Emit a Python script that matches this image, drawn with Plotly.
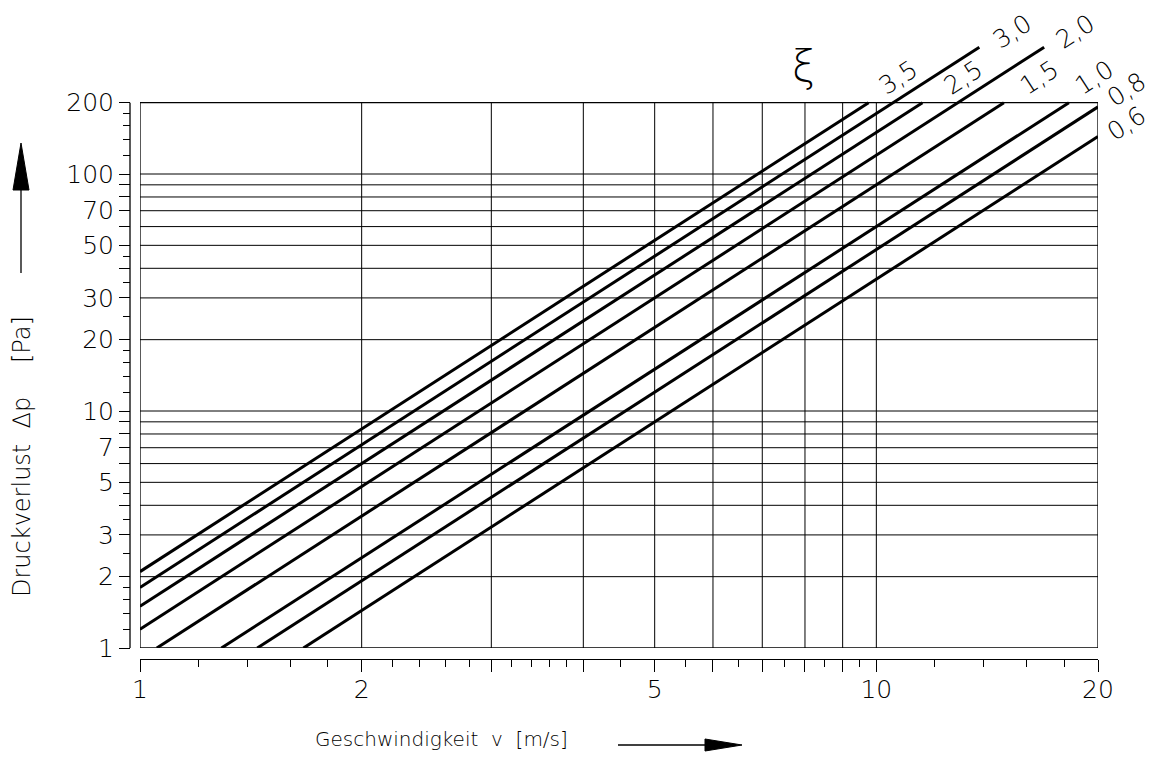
import numpy as np
import plotly.graph_objects as go

# ---------- data ----------
zeta_labels = ["3,5", "3,0", "2,5", "2,0", "1,5", "1,0", "0,8", "0,6"]
v_start = [1.0, 1.0, 1.0, 1.0, 1.054, 1.29, 1.443, 1.667]
dp_start = [2.1, 1.8, 1.5, 1.2, 1.0, 1.0, 1.0, 1.0]
v_end = [9.76, 13.8, 11.55, 16.9, 14.9, 18.26, 20.0, 20.0]
dp_end = [200, 343, 200, 343, 200, 200, 192, 144]

# grid / ticks
x_grid = [2, 3, 4, 5, 6, 7, 8, 9, 10]
y_grid = [2, 3, 4, 5, 6, 7, 8, 9, 10, 20, 30, 40, 50, 60, 70, 80, 90, 100]
x_major = [1, 2, 3, 4, 5, 6, 7, 8, 9, 10, 20]
x_labels = {1: "1", 2: "2", 5: "5", 10: "10", 20: "20"}
x_minor = [1.2, 1.4, 1.6, 1.8, 2.2, 2.4, 2.6, 2.8, 3.2, 3.4, 3.6, 3.8,
           4.5, 5.5, 6.5, 7.5, 8.5, 9.5, 12, 14, 16, 18]
y_major = [1, 2, 3, 4, 5, 6, 7, 8, 9, 10, 20, 30, 40, 50, 60, 70, 80, 90, 100, 200]
y_labels = {1: "1", 2: "2", 3: "3", 5: "5", 7: "7", 10: "10", 20: "20",
            30: "30", 50: "50", 70: "70", 100: "100", 200: "200"}
y_minor = [1.2, 1.4, 1.6, 1.8, 2.5, 3.5, 4.5,
           12, 14, 16, 18, 25, 35, 45,
           120, 140, 160, 180]

# ---------- geometry (screen pixels, page body has an 8px margin) ----------
OFF = 8
W, H = 1145, 750
AX_X, AX_Y = 130, 659               # screen pos of the offset y / x axis lines
X_LEFT, X_RIGHT = 140, 1098         # screen x of v=1 and v=20
Y_BOTTOM, Y_TOP = 648, 30           # screen y of dp=1 and top of plotting area
DEC_Y = 237.0                       # pixels per decade on y

ML = AX_X - OFF
MR = W - (X_RIGHT - OFF)
MB = H - (AX_Y - OFF)
MT = Y_TOP - OFF
PW, PH = W - ML - MR, H - MT - MB
y_top_log = (Y_BOTTOM - Y_TOP) / DEC_Y


def paper(xp, yp):
    return (xp - OFF - ML) / PW, (H - MB - (yp - OFF)) / PH


FONT = "DejaVu Sans"
WEIGHT = 200
INK = "black"

fig = go.Figure()

# grid lines
for gx in x_grid:
    fig.add_trace(go.Scatter(x=[gx, gx], y=[1, 200], mode="lines",
                             line=dict(color=INK, width=1), hoverinfo="skip",
                             showlegend=False))
for gy in y_grid:
    fig.add_trace(go.Scatter(x=[1, 20], y=[gy, gy], mode="lines",
                             line=dict(color=INK, width=1), hoverinfo="skip",
                             showlegend=False))
# frame
fig.add_trace(go.Scatter(x=[1, 20, 20, 1, 1], y=[1, 1, 200, 200, 1], mode="lines",
                         line=dict(color=INK, width=1.3), hoverinfo="skip",
                         showlegend=False))

# curves
for lab, x0, y0, x1, y1 in zip(zeta_labels, v_start, dp_start, v_end, dp_end):
    fig.add_trace(go.Scatter(x=[x0, x1], y=[y0, y1], mode="lines", name=lab,
                             line=dict(color=INK, width=3), showlegend=False))


def note(xp, yp, text, size, angle=0):
    px, py = paper(xp, yp)
    fig.add_annotation(x=px, y=py, xref="paper", yref="paper", text=text,
                       showarrow=False, textangle=angle,
                       xanchor="center", yanchor="middle",
                       font=dict(family=FONT, size=size, color=INK, weight=WEIGHT))


# curve labels (pixel centres)
label_pos = {"3,5": (898, 77), "3,0": (1012, 31), "2,5": (963, 77),
             "2,0": (1075, 31), "1,5": (1039, 77), "1,0": (1094, 77),
             "0,8": (1127, 90), "0,6": (1127, 124)}
for lab in zeta_labels:
    note(*label_pos[lab], lab, 25, -33)
note(803, 66, "ξ", 42)

# axis titles
note(441, 739, "Geschwindigkeit\u00a0 v\u00a0 [m/s]", 20)
note(22, 497, "Druckverlust\u00a0 ∆p", 24, -90)
note(22, 340, "[Pa]", 24, -90)

# arrows
shapes = []


def seg(xa, ya, xb, yb, w=1.3):
    a0, b0 = paper(xa, ya)
    a1, b1 = paper(xb, yb)
    shapes.append(dict(type="line", xref="paper", yref="paper",
                       x0=a0, y0=b0, x1=a1, y1=b1, line=dict(color=INK, width=w)))


def tri(p1, p2, p3):
    pts = [paper(*p) for p in (p1, p2, p3)]
    path = "M {} {} L {} {} L {} {} Z".format(*[c for p in pts for c in p])
    shapes.append(dict(type="path", xref="paper", yref="paper", path=path,
                       fillcolor=INK, line=dict(color=INK, width=1)))


seg(618, 745, 705, 745)
tri((742, 745), (705, 739), (705, 751))
seg(21, 273, 21, 190)
tri((21, 143), (13, 190), (29, 190))
# y axis line only from 1 to 200
seg(AX_X, Y_BOTTOM, AX_X, Y_BOTTOM - DEC_Y * np.log10(200))

tick_font = dict(family=FONT, size=25, color=INK, weight=WEIGHT)
fig.update_layout(
    width=W, height=H,
    margin=dict(l=ML, r=MR, t=MT, b=MB, autoexpand=False),
    paper_bgcolor="white", plot_bgcolor="white",
    shapes=shapes,
    xaxis=dict(
        type="log", range=[0, np.log10(20)],
        domain=[(X_LEFT - AX_X) / PW, 1],
        anchor="free", position=0, automargin=False,
        showgrid=False, zeroline=False,
        showline=True, linecolor=INK, linewidth=1.3,
        tickmode="array", tickvals=x_major,
        ticktext=[x_labels.get(v, "") for v in x_major],
        ticks="outside", ticklen=12, tickwidth=1.3, tickcolor=INK,
        tickfont=tick_font, ticklabelstandoff=-4,
        minor=dict(tickvals=x_minor, ticks="outside", ticklen=7,
                   tickwidth=1.3, tickcolor=INK, showgrid=False),
    ),
    yaxis=dict(
        type="log", range=[0, y_top_log],
        domain=[(AX_Y - Y_BOTTOM) / PH, 1],
        anchor="free", position=0, automargin=False,
        showgrid=False, zeroline=False, showline=False,
        tickmode="array", tickvals=y_major,
        ticktext=[y_labels.get(v, "") for v in y_major],
        ticks="outside", ticklen=11, tickwidth=1.3, tickcolor=INK,
        tickfont=tick_font,
        minor=dict(tickvals=y_minor, ticks="outside", ticklen=7,
                   tickwidth=1.3, tickcolor=INK, showgrid=False),
    ),
)

fig.write_html("out.html")
